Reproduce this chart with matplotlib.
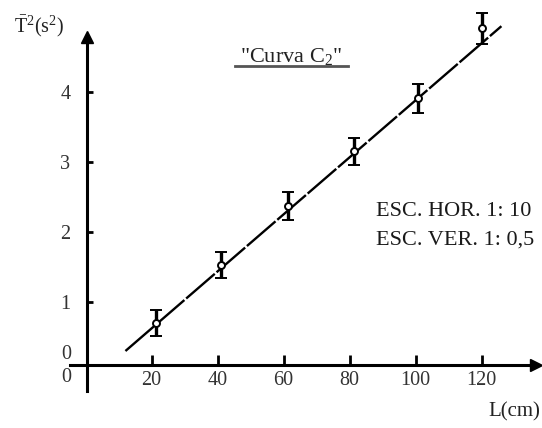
import matplotlib
matplotlib.use("Agg")
import matplotlib.pyplot as plt
import numpy as np

plt.rcParams['font.family'] = ['Liberation Serif', 'DejaVu Serif']
plt.rcParams['mathtext.fontset'] = 'custom'
plt.rcParams['mathtext.rm'] = 'Liberation Serif'
plt.rcParams['mathtext.it'] = 'Liberation Serif:italic'

# datos
L_cm = [21.5, 41.1, 61.5, 81.3, 100.7, 120.2]
T2 = [0.70, 1.53, 2.37, 3.15, 3.91, 4.91]
T2_err = [0.18, 0.19, 0.20, 0.19, 0.21, 0.22]
fit_L = [12.1, 126.0]
fit_T2 = [0.30, 4.94]
xticks = [20, 40, 60, 80, 100, 120]
yticks = [1, 2, 3, 4]

fig = plt.figure(figsize=(5.42, 4.28), dpi=100)
ax = fig.add_axes([0, 0, 1, 1])
ax.set_xlim(-25.9, 138.3)
ax.set_ylim(-0.8, 5.314)

# ejes con flechas
for s in ['top', 'right']:
    ax.spines[s].set_visible(False)
ax.spines['left'].set_position(('data', 0.5))
ax.spines['bottom'].set_position(('data', 0.1))
ax.spines['left'].set_bounds(-0.27, 4.75)
ax.spines['bottom'].set_bounds(-4.6, 136)
ax.spines['left'].set_linewidth(2.2)
ax.spines['bottom'].set_linewidth(2.2)
ax.plot([0.5], [4.78], marker='^', color='black', markersize=9, clip_on=False)
ax.plot([136.5], [0.1], marker='>', color='black', markersize=9, clip_on=False)

ax.set_xticks(xticks)
ax.set_xticklabels([str(v) for v in xticks])
ax.set_yticks(yticks)
ax.set_yticklabels([str(v) for v in yticks])
ax.tick_params(axis='x', direction='in', length=7, width=2, pad=4,
               labelsize=14.5, labelcolor='#333333')
ax.tick_params(axis='y', direction='in', length=4, width=2, pad=12,
               labelsize=14.5, labelcolor='#333333')

# ceros en el origen
ax.text(-5.8, 0.25, '0', fontsize=14.5, color='#333333', ha='center', va='center')
ax.text(-5.8, -0.08, '0', fontsize=14.5, color='#333333', ha='center', va='center')

# recta ajustada
ax.plot(fit_L, fit_T2, color='black', lw=1.7, linestyle=(0, (16, 1)))

# puntos con barras de error
ax.errorbar(L_cm, T2, yerr=T2_err, fmt='o', color='black', ecolor='black',
            elinewidth=2.4, capsize=4, capthick=2.2, markersize=5,
            markerfacecolor='white', markeredgewidth=1.4, zorder=3)

# textos
ax.text(14 / 542, 1 - 26 / 428, r'$\bar{\mathrm{T}}^2$(s$^2$)', transform=ax.transAxes,
        fontsize=14.5, ha='left', va='center', color='#222222')
ax.text(540 / 542, 1 - 412 / 428, 'L(cm)', transform=ax.transAxes,
        fontsize=15, ha='right', va='center', color='#222222')
ax.text(291 / 542, 1 - 57 / 428, '"Curva C$_2$"', transform=ax.transAxes,
        fontsize=16, ha='center', va='center', color='#222222')
ax.plot([235 / 542, 348 / 542], [1 - 66 / 428, 1 - 66 / 428], transform=ax.transAxes,
        color='#555555', lw=2)
ax.text(376 / 542, 1 - 212 / 428, 'ESC. HOR. 1: 10', transform=ax.transAxes,
        fontsize=16, ha='left', va='center', color='#1a1a1a')
ax.text(376 / 542, 1 - 240 / 428, 'ESC. VER. 1: 0,5', transform=ax.transAxes,
        fontsize=16, ha='left', va='center', color='#1a1a1a')

fig.savefig('out.png', dpi=100)
